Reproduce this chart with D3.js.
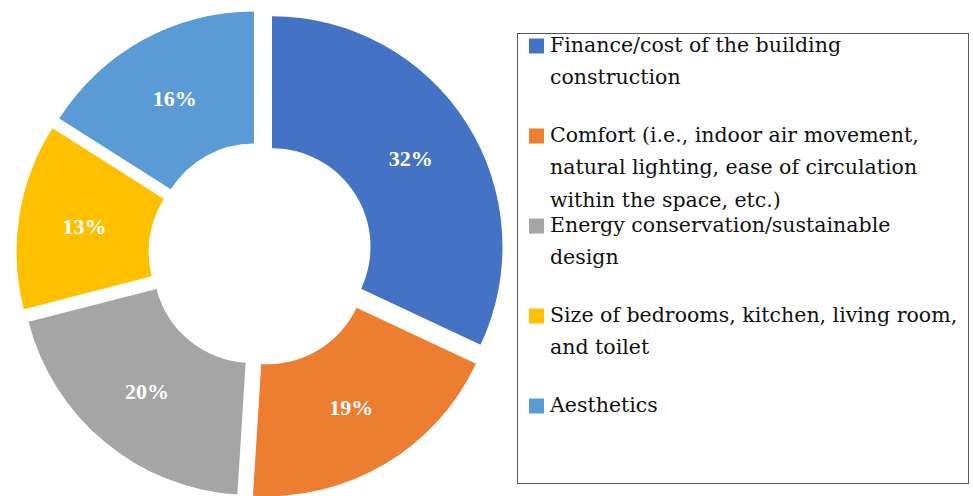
<!DOCTYPE html>
<html>
<head>
<meta charset="utf-8">
<script src="https://cdn.jsdelivr.net/npm/d3@7"></script>
<style>
  html, body { margin: 0; padding: 0; background: #fff; }
  svg { display: block; }
</style>
</head>
<body>
<svg id="chart" width="973" height="496"></svg>
<script>
// Survey shares: what respondents weigh most in housing design
const categories = [
  "Finance/cost of the building construction",
  "Comfort (i.e., indoor air movement, natural lighting, ease of circulation within the space, etc.)",
  "Energy conservation/sustainable design",
  "Size of bedrooms, kitchen, living room, and toilet",
  "Aesthetics"
];
const values = [32, 19, 20, 13, 16];
const colors = ["#4472C4", "#ED7D31", "#A5A5A5", "#FFC000", "#5B9BD5"];
// Legend text broken into the lines shown in the box
const legendLines = [
  ["Finance/cost of the building", "construction"],
  ["Comfort (i.e., indoor air movement,", "natural lighting, ease of circulation", "within the space, etc.)"],
  ["Energy conservation/sustainable", "design"],
  ["Size of bedrooms, kitchen, living room,", "and toilet"],
  ["Aesthetics"]
];

const svg = d3.select("#chart");

const cx = 260.5, cy = 254;
const outerR = 230.5, innerR = 98.5;
const explode = 13.6;

const pie = d3.pie().sort(null).value(d => d.value);
const arc = d3.arc().innerRadius(innerR).outerRadius(outerR);

const data = values.map((v, i) => ({ value: v, name: categories[i], color: colors[i] }));
const arcs = pie(data);

const g = svg.append("g").attr("transform", `translate(${cx},${cy})`);

const slice = g.selectAll("g.slice")
  .data(arcs)
  .join("g")
  .attr("class", "slice")
  .attr("transform", d => {
    const a = (d.startAngle + d.endAngle) / 2;
    return `translate(${Math.sin(a) * explode},${-Math.cos(a) * explode})`;
  });

slice.append("path")
  .attr("d", arc)
  .attr("fill", d => d.data.color);

slice.append("text")
  .attr("transform", d => `translate(${arc.centroid(d)})`)
  .attr("text-anchor", "middle")
  .attr("dy", "0.35em")
  .attr("fill", "#fff")
  .attr("font-family", "'Liberation Serif', serif")
  .attr("font-weight", "bold")
  .attr("font-size", 22)
  .text(d => d.data.value + "%");

// Legend
const legend = svg.append("g");
legend.append("rect")
  .attr("x", 517.5).attr("y", 33.5)
  .attr("width", 451).attr("height", 450)
  .attr("fill", "none")
  .attr("stroke", "#595959")
  .attr("stroke-width", 1);

const itemTop = 52, itemStep = 90, lineStep = 32.3;
const items = legend.selectAll("g.item")
  .data(data)
  .join("g")
  .attr("class", "item")
  .attr("transform", (d, i) => `translate(0,${itemTop + i * itemStep})`);

items.append("rect")
  .attr("x", 529).attr("y", -13.5)
  .attr("width", 15).attr("height", 15)
  .attr("fill", d => d.color);

items.append("text")
  .attr("font-family", "'DejaVu Serif', serif")
  .attr("font-size", 20.5)
  .attr("fill", "#111")
  .selectAll("tspan")
  .data((d, i) => legendLines[i])
  .join("tspan")
  .attr("x", 550)
  .attr("y", (d, j) => j * lineStep)
  .text(d => d);
</script>
</body>
</html>
